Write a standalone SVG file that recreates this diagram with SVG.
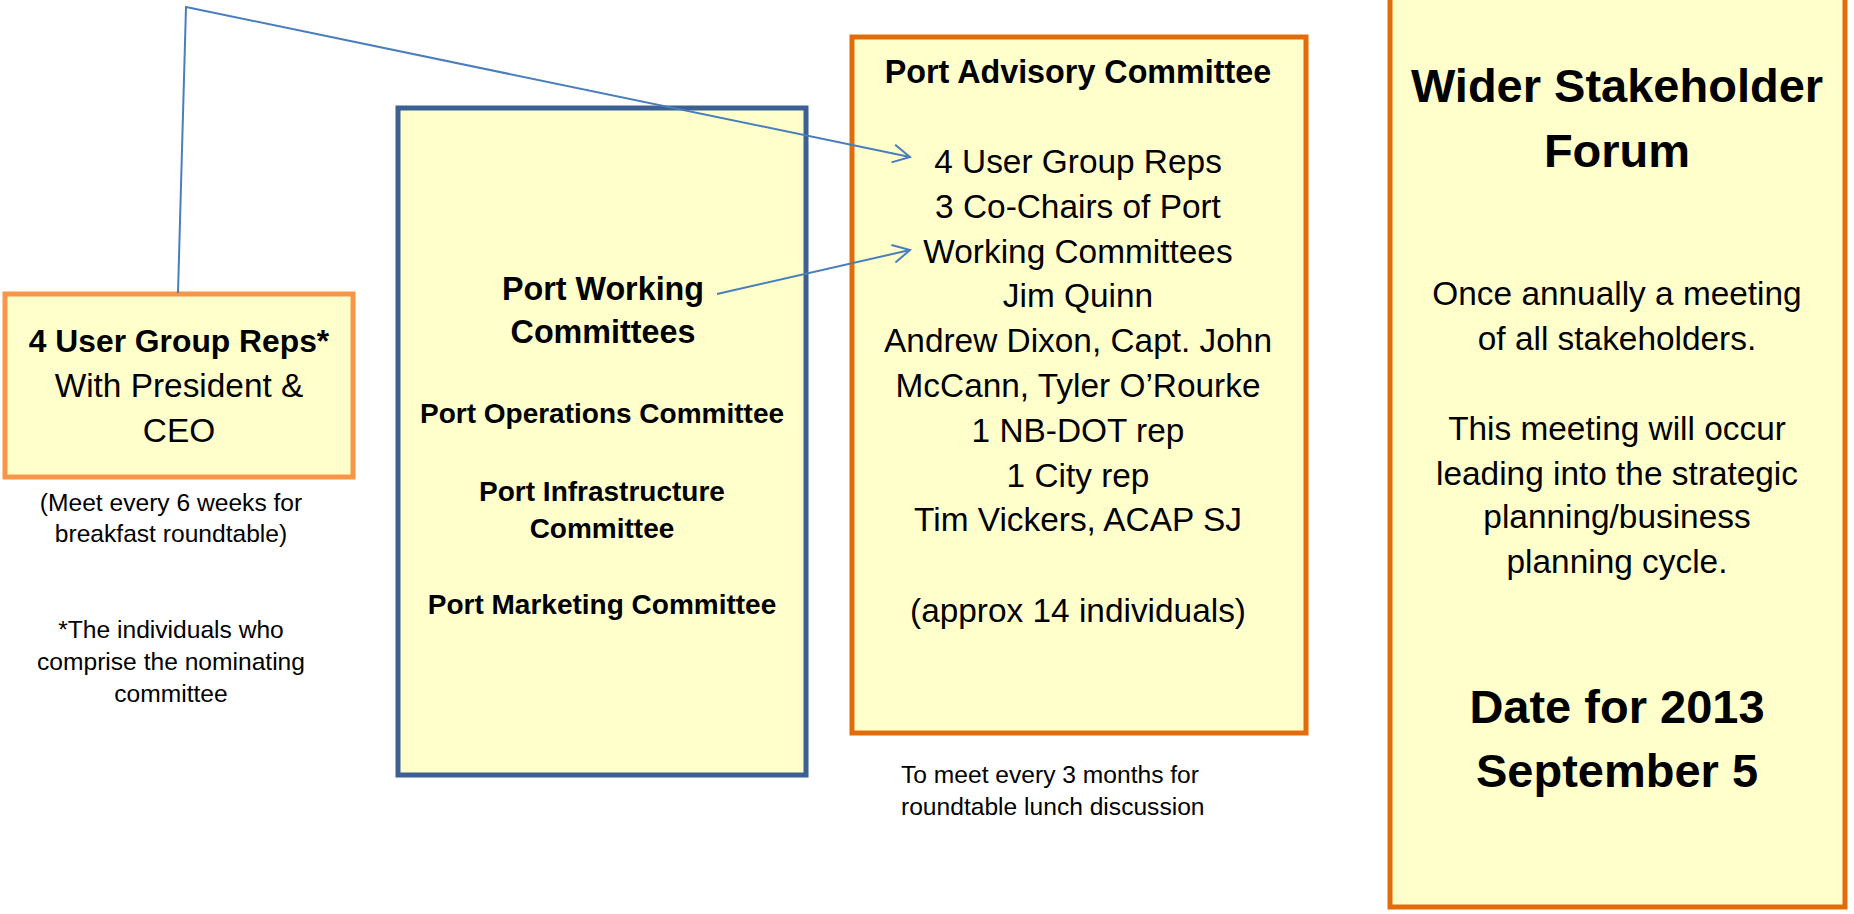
<svg xmlns="http://www.w3.org/2000/svg" width="1854" height="914" viewBox="0 0 1854 914">
<defs>
<style>
text{font-family:"Liberation Sans",Arial,sans-serif;fill:#000;text-anchor:middle}
.b{font-weight:bold}
.box{fill:#FFFFCC}
.sm{font-size:24.6px}
.md{font-size:33.4px}
.hd{font-size:32.3px}
.cm{font-size:28px}
.bg{font-size:47px}
.conn{fill:none;stroke:#4A7EBB;stroke-width:2}
</style>
<marker id="arr" viewBox="0 0 20 20" refX="18" refY="10" markerWidth="20" markerHeight="20" markerUnits="userSpaceOnUse" orient="auto">
<path d="M1,1 L18,10 L1,19" fill="none" stroke="#4A7EBB" stroke-width="2"/>
</marker>
</defs>
<rect width="1854" height="914" fill="#fff"/>

<g id="user-group">
<rect class="box" x="5" y="294" width="348" height="183" stroke="#F79646" stroke-width="5"/>
<text class="b hd" x="179" y="352" style="font-size:31.8px">4 User Group Reps*</text>
<text class="md" x="179" y="397">With President &amp;</text>
<text class="md" x="179" y="442">CEO</text>
</g>
<g id="user-group-notes">
<text class="sm" x="171" y="511">(Meet every 6 weeks for</text>
<text class="sm" x="171" y="542">breakfast roundtable)</text>
<text class="sm" x="171" y="638">*The individuals who</text>
<text class="sm" x="171" y="670">comprise the nominating</text>
<text class="sm" x="171" y="702">committee</text>
</g>

<g id="working-committees">
<rect class="box" x="398" y="108" width="408" height="667" stroke="#3C6092" stroke-width="5"/>
<text class="b hd" x="603" y="300">Port Working</text>
<text class="b hd" x="603" y="343">Committees</text>
<text class="b cm" x="602" y="423">Port Operations Committee</text>
<text class="b cm" x="602" y="501">Port Infrastructure</text>
<text class="b cm" x="602" y="538">Committee</text>
<text class="b cm" x="602" y="614">Port Marketing Committee</text>
</g>

<g id="advisory-committee">
<rect class="box" x="852" y="37" width="454" height="696" stroke="#E36C0A" stroke-width="5"/>
<text class="b hd" x="1078" y="83">Port Advisory Committee</text>
<text class="md" x="1078" y="173">4 User Group Reps</text>
<text class="md" x="1078" y="218">3 Co-Chairs of Port</text>
<text class="md" x="1078" y="263">Working Committees</text>
<text class="md" x="1078" y="307">Jim Quinn</text>
<text class="md" x="1078" y="352">Andrew Dixon, Capt. John</text>
<text class="md" x="1078" y="397">McCann, Tyler O’Rourke</text>
<text class="md" x="1078" y="442">1 NB-DOT rep</text>
<text class="md" x="1078" y="487">1 City rep</text>
<text class="md" x="1078" y="531">Tim Vickers, ACAP SJ</text>
<text class="md" x="1078" y="622">(approx 14 individuals)</text>
</g>
<g id="advisory-notes">
<text class="sm" x="901" y="783" style="text-anchor:start">To meet every 3 months for</text>
<text class="sm" x="901" y="815" style="text-anchor:start">roundtable lunch discussion</text>
</g>

<g id="stakeholder-forum">
<rect class="box" x="1390" y="-10" width="455" height="917" stroke="#E36C0A" stroke-width="5"/>
<text class="b bg" x="1617" y="102">Wider Stakeholder</text>
<text class="b bg" x="1617" y="167">Forum</text>
<text class="md" x="1617" y="305">Once annually a meeting</text>
<text class="md" x="1617" y="350">of all stakeholders.</text>
<text class="md" x="1617" y="440">This meeting will occur</text>
<text class="md" x="1617" y="485">leading into the strategic</text>
<text class="md" x="1617" y="528">planning/business</text>
<text class="md" x="1617" y="573">planning cycle.</text>
<text class="b bg" x="1617" y="723">Date for 2013</text>
<text class="b bg" x="1617" y="787">September 5</text>
</g>

<g id="connectors">
<path class="conn" d="M178,293 L186,7 L910,157" marker-end="url(#arr)"/>
<path class="conn" d="M717,294 L910,250" marker-end="url(#arr)"/>
</g>
</svg>
